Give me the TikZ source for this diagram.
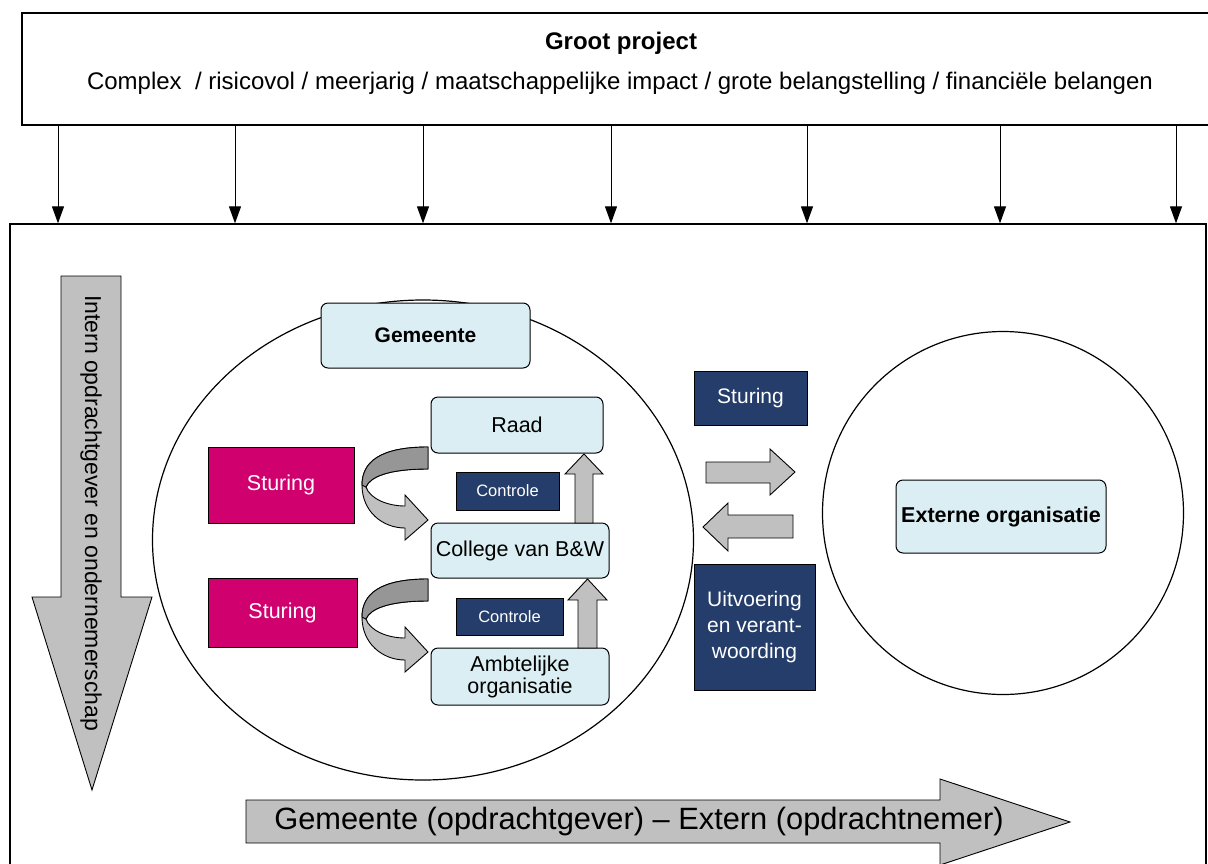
\documentclass[tikz,border=0pt]{standalone}
\usepackage{fontspec}
\setmainfont{Liberation Sans}
\usetikzlibrary{arrows.meta,positioning,shapes.geometric}
\definecolor{lichtblauw}{RGB}{218,238,243}
\definecolor{sturingrood}{RGB}{209,0,111}
\definecolor{donkerblauw}{RGB}{37,61,106}
\definecolor{pijlgrijs}{RGB}{192,192,192}
\definecolor{pijldonker}{RGB}{150,150,150}
\tikzstyle{kader} = [rectangle, draw, line width=1.3pt, inner sep=0pt]
\tikzstyle{blok} = [rectangle, draw, line width=1pt, fill=lichtblauw, rounded corners=7pt,
    align=center, inner sep=0pt, font=\fontsize{21.5}{25}\selectfont]
\tikzstyle{sturing} = [rectangle, draw, line width=1pt, fill=sturingrood, text=white,
    inner sep=0pt, font=\fontsize{21.5}{25}\selectfont]
\tikzstyle{donker} = [rectangle, draw, line width=1pt, fill=donkerblauw, text=white,
    align=center, inner sep=0pt, font=\fontsize{21}{26}\selectfont]
\tikzstyle{pijl} = [draw, line width=0.9pt, fill=pijlgrijs, line join=miter]
\tikzstyle{line} = [draw, line width=1pt, -{Triangle[length=17pt,width=12pt]}]

\begin{document}
\begin{tikzpicture}[x=1pt, y=-1pt]
    \useasboundingbox (0,0) rectangle (1208,863);
    % Place nodes

    \node [kader, minimum width=1192, minimum height=112] (groot) at (618,69) {};
    \node [font=\fontsize{24}{28}\selectfont\bfseries] (titel) at (621,43) {Groot project};
    \node [font=\fontsize{24}{28}\selectfont] (kenmerken) at (620,83)
        {Complex \ / risicovol / meerjarig / maatschappelijke impact / grote belangstelling / financiële belangen};
    \node [kader, minimum width=1196, minimum height=660] (kader) at (608,554) {};

    \node [ellipse, draw, line width=1.2pt, minimum width=541, minimum height=480] (gemeentecirkel) at (423,540) {};
    \node [ellipse, draw, line width=1.2pt, minimum width=361, minimum height=363] (externcirkel) at (1003,513) {};

    \node [blok, font=\fontsize{21}{25}\selectfont\bfseries, minimum width=209, minimum height=65] (gemeente) at (425.5,335.5) {Gemeente};
    \node [blok, minimum width=172, minimum height=56] (raad) at (517,425) {Raad};
    \node [blok, minimum width=178, minimum height=55] (college) at (520,550.5) {College van B\&W};
    \node [blok, minimum width=178, minimum height=57] (ambt) at (520,676.5) {Ambtelijke\\[-3pt]organisatie};
    \node [donker, font=\fontsize{16.5}{20}\selectfont, minimum width=103, minimum height=38] (controle1) at (507.5,491) {Controle};
    \node [donker, font=\fontsize{16.5}{20}\selectfont, minimum width=107, minimum height=37] (controle2) at (509.5,616.5) {Controle};
    \node [sturing, minimum width=146, minimum height=76] (sturing1) at (281,485) {Sturing};
    \node [sturing, minimum width=149, minimum height=69] (sturing2) at (282.5,612.5) {Sturing};

    \node [donker, minimum width=113, minimum height=54] (sturing3) at (750.5,398) {Sturing};
    \node [donker, minimum width=121, minimum height=126] (uitvoering) at (754.5,627) {Uitvoering\\en verant-\\woording};
    \node [blok, font=\fontsize{21.5}{25}\selectfont\bfseries, minimum width=210, minimum height=73] (extern) at (1001,516.5) {Externe organisatie};

    % arrows from the project down
    \foreach \x in {58,235,423,611,807,1000,1176}
        \draw [line] (groot.south -| \x,0) -- (kader.north -| \x,0);

    % block arrows
    \draw [pijl] (61,276) -- (121,276) -- (121,597) -- (152,597) -- (92,790) -- (32,597) -- (61,597) -- cycle;
    \node [rotate=-90, font=\fontsize{23}{27}\selectfont] (intern) at (91,513) {Intern opdrachtgever en ondernemerschap};
    \draw [pijl] (246,800) -- (940,800) -- (940,779) -- (1070,822) -- (940,865) -- (940,843) -- (246,843) -- cycle;
    \node [font=\fontsize{30.8}{34}\selectfont] (richting) at (639,822) {Gemeente (opdrachtgever) -- Extern (opdrachtnemer)};

    \draw [pijl] (575,523) -- (575,474) -- (565,474) -- (584,454) -- (603,474) -- (593,474) -- (593,523) -- cycle;
    \draw [pijl] (578,648) -- (578,600) -- (568,600) -- (587.5,579) -- (607,600) -- (597,600) -- (597,648) -- cycle;
    \draw [pijl] (706,462) -- (770,462) -- (770,449) -- (795,472) -- (770,495) -- (770,483) -- (706,483) -- cycle;
    \draw [pijl] (793,515) -- (728,515) -- (728,503) -- (703,527) -- (728,551) -- (728,538) -- (793,538) -- cycle;

    % curved sturing arrows
    \foreach \y in {447,579} {
        \begin{scope}[shift={(428,\y)}]
            \draw [pijl] (0,0) .. controls (-48,0) and (-66,15) .. (-66,38)
                .. controls (-66,65) and (-45,81) .. (-23,81) -- (-23,93) -- (0,73) -- (-23,48) -- (-23,59)
                .. controls (-40,59) and (-58,52) .. (-62,40)
                .. controls (-58,30) and (-40,22) .. (0,22) -- cycle;
            \draw [pijl, fill=pijldonker] (0,0) .. controls (-48,0) and (-66,15) .. (-66,38) -- (-62,40)
                .. controls (-58,30) and (-40,22) .. (0,22) -- cycle;
        \end{scope}
    }
\end{tikzpicture}
\end{document}
